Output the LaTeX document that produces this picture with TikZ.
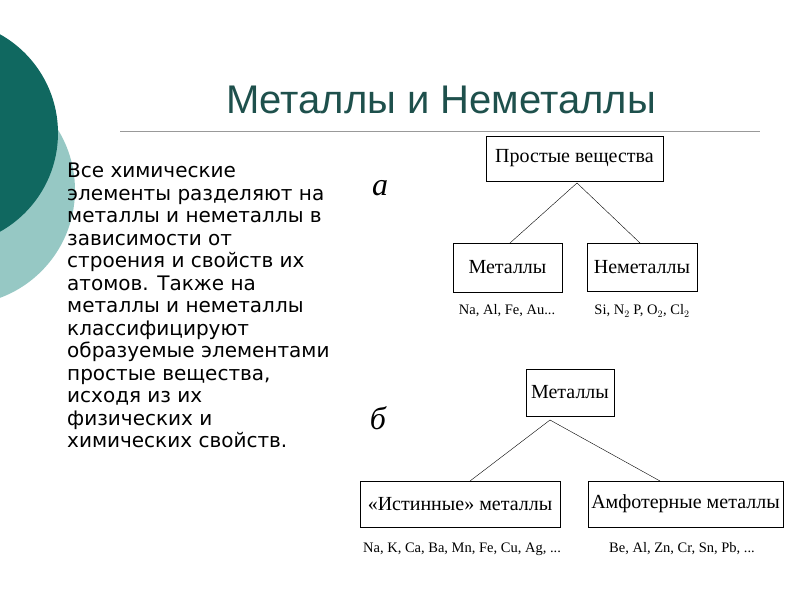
\documentclass[tikz,border=0pt]{standalone}
\usepackage{fontspec}
\setmainfont{Liberation Serif}
\newfontfamily\sansf{DejaVu Sans}
\newfontfamily\titlef{Liberation Sans}
\definecolor{darkteal}{RGB}{16,104,96}
\definecolor{lightteal}{RGB}{150,200,196}
\definecolor{titlecol}{RGB}{30,80,76}
\tikzset{
  box/.style={draw,thick,inner sep=0pt,font=\fontsize{20}{20}\selectfont},
  link/.style={thin},
  elems/.style={font=\fontsize{14.5}{14.5}\selectfont},
}
\begin{document}
\begin{tikzpicture}[x=1pt,y=-1pt]
	\useasboundingbox (0,0) rectangle (800,600);
	\fill[lightteal](-40,190) circle [radius=115];
	\fill[darkteal](-55,133) circle [radius=113];
	
	\node[text=titlecol,font=\titlef\fontsize{40}{40}\selectfont] (title) at (441,100) {Металлы и Неметаллы};
	\draw[gray!80,thick](120,131)--(760,131);
	
	\node[anchor=north west,align=left,font=\sansf\fontsize{20}{22.5}\selectfont,inner sep=0pt] (text) at (67,163)
	{Все химические\\элементы разделяют на\\металлы и неметаллы в\\зависимости от\\строения и свойств их\\атомов. Также на\\металлы и неметаллы\\классифицируют\\образуемые элементами\\простые вещества,\\исходя из их\\физических и\\химических свойств.};
	
	\node[font=\itshape\fontsize{32}{32}\selectfont] (la) at (380,188) {а};
	\node[font=\itshape\fontsize{32}{32}\selectfont] (lb) at (378,418) {б};
	
	\node[box,minimum width=177,minimum height=45] (simple) at (574.5,158.5) {Простые вещества};
	\node[box,minimum width=109,minimum height=49] (met) at (507.5,267.5) {Металлы};
	\node[box,minimum width=110,minimum height=48] (nonmet) at (642,267) {Неметаллы};
	\coordinate (ta) at (577,183);
	\draw[link](ta)--(510,243);
	\draw[link](ta)--(640,243);
	\node[elems] (metel) at (507,311) {Na, Al, Fe, Au...};
	\node[elems] (nonmetel) at (642,311) {Si, N$_2$ P, O$_2$, Cl$_2$};
	
	\node[box,minimum width=88,minimum height=47] (met2) at (570,392.5) {Металлы};
	\node[box,minimum width=200,minimum height=46] (true) at (460,504) {«Истинные» металлы};
	\node[box,minimum width=195,minimum height=46] (amph) at (685.5,504) {Амфотерные металлы};
	\coordinate (tb) at (550,420);
	\draw[link](tb)--(470,481);
	\draw[link](tb)--(660,481);
	\node[elems] (trueel) at (462,549) {Na, K, Ca, Ba, Mn, Fe, Cu, Ag, ...};
	\node[elems] (amphel) at (682,549) {Be, Al, Zn, Cr, Sn, Pb, ...};
\end{tikzpicture}
\end{document}
